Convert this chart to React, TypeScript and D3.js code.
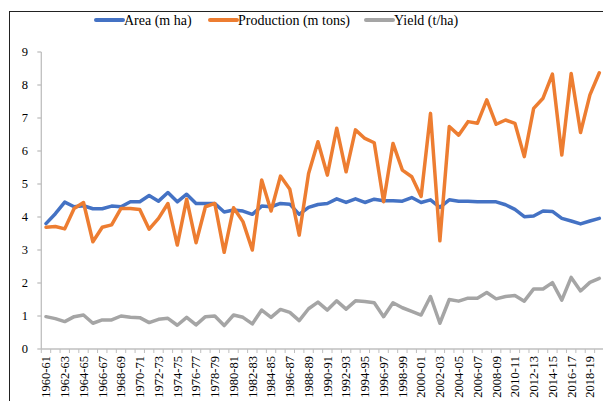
import React from "react";
import * as d3 from "d3";

const years: string[] = [];
for (let y = 1960; y <= 2019; y++) {
  years.push(`${y}-${String((y + 1) % 100).padStart(2, "0")}`);
}

const area = [
  3.8, 4.1, 4.45, 4.31, 4.34, 4.25, 4.25, 4.33, 4.31, 4.46,
  4.46, 4.65, 4.48, 4.74, 4.46, 4.69, 4.41, 4.41, 4.41, 4.15,
  4.21, 4.18, 4.08, 4.33, 4.31, 4.41, 4.39, 4.08, 4.29, 4.38,
  4.41, 4.55, 4.44, 4.55, 4.44, 4.54, 4.49, 4.49, 4.48, 4.59,
  4.44, 4.52, 4.29, 4.52, 4.48, 4.48, 4.46, 4.46, 4.46, 4.37,
  4.23, 4.01, 4.03, 4.18, 4.17, 3.96, 3.88, 3.79, 3.88, 3.96,
];

const production = [
  3.69, 3.71, 3.64, 4.26, 4.44, 3.25, 3.69, 3.76, 4.26, 4.26,
  4.23, 3.63, 3.96, 4.41, 3.15, 4.54, 3.22, 4.31, 4.41, 2.93,
  4.28, 3.86, 3.0, 5.12, 4.18, 5.24, 4.84, 3.45, 5.32, 6.28,
  5.27, 6.69, 5.37, 6.64, 6.38, 6.25, 4.46, 6.23, 5.42, 5.22,
  4.62, 7.14, 3.28, 6.74, 6.48, 6.89, 6.84, 7.55, 6.81, 6.94,
  6.84, 5.83, 7.29, 7.6, 8.33, 5.88, 8.35, 6.56, 7.7, 8.37,
];

const yieldData = [
  0.98, 0.92, 0.83, 0.98, 1.03, 0.78, 0.88, 0.88, 1.0, 0.96,
  0.95, 0.8, 0.9, 0.93, 0.72, 0.96, 0.73, 0.98, 1.0, 0.71,
  1.03, 0.96, 0.76, 1.18, 0.96, 1.2, 1.11, 0.86, 1.22, 1.42,
  1.18, 1.46, 1.21, 1.46, 1.44, 1.4, 0.98, 1.4, 1.25, 1.14,
  1.03, 1.59, 0.78, 1.5, 1.45, 1.54, 1.54, 1.71, 1.52, 1.59,
  1.62, 1.45, 1.82, 1.82, 2.01, 1.48, 2.17, 1.76, 2.02, 2.14,
];

const yTicks = [0, 1, 2, 3, 4, 5, 6, 7, 8, 9];

const seriesNames = ["Area (m ha)", "Production (m tons)", "Yield (t/ha)"];
const seriesColors = ["#4472C4", "#ED7D31", "#A5A5A5"];

export default function App() {
  const W = 603;
  const H = 401;
  const left = 41.3;
  const right = 604;
  const top = 52;
  const bottom = 349;
  const font = "Liberation Serif, Times New Roman, serif";

  const x = d3.scaleBand<string>().domain(years).range([left, right]).paddingInner(0).paddingOuter(0);
  const y = d3.scaleLinear().domain([0, 9]).range([bottom, top]);
  const cx = (i: number) => (x(years[i]) as number) + x.bandwidth() / 2;

  const line = d3
    .line<number>()
    .x((_, i) => cx(i))
    .y((d) => y(d));

  const allSeries = [area, production, yieldData];
  const legendX = [96, 210, 366];

  return (
    <div style={{ position: "absolute", left: 0, top: 0 }}>
      <svg width={W} height={H} style={{ display: "block", background: "#fff" }}>
        <rect x={9.5} y={11.5} width={620} height={420} fill="#fff" stroke="#222" strokeWidth={1} />
        {/* y axis */}
        <line x1={left} x2={left} y1={top} y2={bottom} stroke="#BFBFBF" strokeWidth={1.3} />
        {yTicks.map((t) => (
          <g key={t}>
            <line x1={left - 4} x2={left} y1={y(t)} y2={y(t)} stroke="#BFBFBF" strokeWidth={1.3} />
            <text x={28} y={y(t)} dy="0.35em" textAnchor="end" style={{ fontFamily: font }} fontSize={12.5} fill="#000">
              {t}
            </text>
          </g>
        ))}
        {/* x axis */}
        <line x1={left} x2={right} y1={bottom} y2={bottom} stroke="#BFBFBF" strokeWidth={1.3} />
        {years.map((yr) => (
          <line
            key={yr}
            x1={x(yr) as number}
            x2={x(yr) as number}
            y1={bottom}
            y2={bottom + 4}
            stroke="#BFBFBF"
            strokeWidth={1}
          />
        ))}
        {years.map((yr, i) =>
          i % 2 === 0 ? (
            <text
              key={"l" + yr}
              transform={`translate(${cx(i)},${bottom + 7}) rotate(-90)`}
              textAnchor="end"
              dy="0.35em"
              style={{ fontFamily: font }}
              fontSize={12.5}
              fill="#000"
            >
              {yr}
            </text>
          ) : null
        )}
        {/* lines */}
        {allSeries.map((s, k) => (
          <path
            key={k}
            d={line(s) || ""}
            fill="none"
            stroke={seriesColors[k]}
            strokeWidth={3.5}
            strokeLinejoin="round"
            strokeLinecap="round"
          />
        ))}
        {/* legend */}
        {seriesNames.map((n, k) => (
          <g key={n}>
            <line
              x1={legendX[k]}
              x2={legendX[k] + 27}
              y1={20}
              y2={20}
              stroke={seriesColors[k]}
              strokeWidth={4}
              strokeLinecap="round"
            />
            <text x={legendX[k] + 28} y={20} dy="0.35em" style={{ fontFamily: font }} fontSize={14} fill="#000">
              {n}
            </text>
          </g>
        ))}
      </svg>
    </div>
  );
}
